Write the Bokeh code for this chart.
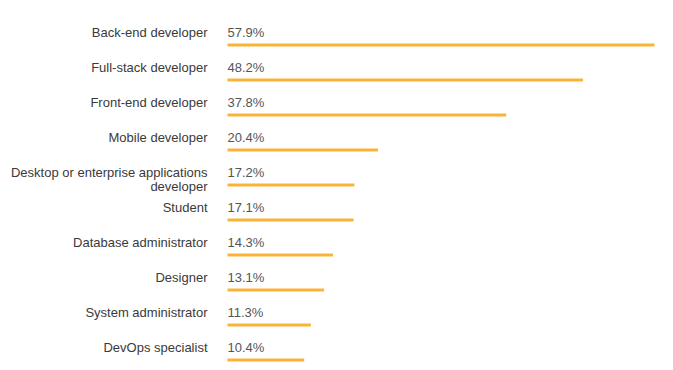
from bokeh.plotting import figure
from bokeh.models import Range1d, ColumnDataSource
from bokeh.core.properties import value
from bokeh.embed import file_html
from bokeh.resources import INLINE

categories = [
    "Back-end developer",
    "Full-stack developer",
    "Front-end developer",
    "Mobile developer",
    "Desktop or enterprise applications\ndeveloper",
    "Student",
    "Database administrator",
    "Designer",
    "System administrator",
    "DevOps specialist",
]
values = [57.9, 48.2, 37.8, 20.4, 17.2, 17.1, 14.3, 13.1, 11.3, 10.4]

rows = list(range(len(categories)))
labels = [f"{v}%" for v in values]

src = ColumnDataSource(dict(y=rows, v=values, cat=categories, lab=labels,
                            zero=[0] * len(values)))

W, H = 665, 366
X0 = 227      # canvas x of the bars' zero
Y0 = 44.5     # canvas y of the first row
ROW = 35      # pixels per row
PX = 7.375    # pixels per percent
p = figure(width=W, height=H, output_backend="svg", toolbar_location=None,
           min_border_left=0, min_border_right=0, min_border_top=0, min_border_bottom=0,
           x_range=Range1d(-X0 / PX, (W - X0) / PX),
           y_range=Range1d((H - Y0) / ROW, -Y0 / ROW))
p.axis.visible = False
p.grid.visible = False
p.outline_line_color = None

p.hbar(y="y", left=0, right="v", height=3.0 / ROW, source=src,
       fill_color="#FBB337", line_color=None)

p.text(x="zero", y="y", text="lab", source=src, y_offset=-12.5,
       text_baseline="middle", text_align="left", text_font=value("Liberation Sans"),
       text_font_size="13px", text_color="#555555")

p.text(x="zero", y="y", text="cat", source=src, x_offset=-20, y_offset=-20,
       text_baseline="top", text_align="right", text_font=value("Liberation Sans"),
       text_font_size="13px", text_color="#3a3a3a", text_line_height=0.95)

open("out.html", "w").write(file_html(p, INLINE))
